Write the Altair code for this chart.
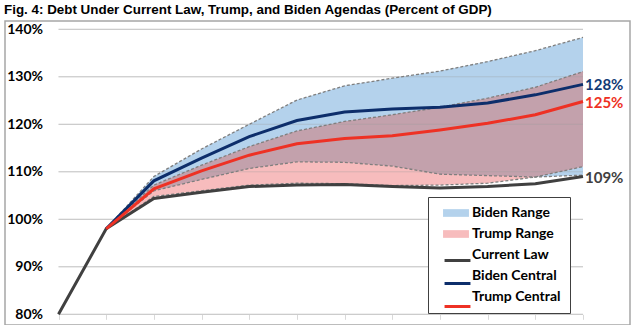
import altair as alt
import pandas as pd

# ---------------- data ----------------
years = list(range(2019, 2031))
current_law   = [80, 98, 104.4, 105.7, 106.9, 107.2, 107.3, 106.9, 106.6, 106.9, 107.5, 109.0]
biden_central = [None, 98, 108.1, 112.9, 117.4, 120.8, 122.6, 123.2, 123.6, 124.5, 126.2, 128.4]
trump_central = [None, 98, 106.4, 110.2, 113.5, 115.9, 117.0, 117.6, 118.8, 120.2, 122.0, 124.8]
biden_high    = [None, 98, 109.0, 114.8, 120.0, 125.1, 128.1, 129.7, 131.2, 133.2, 135.5, 138.3]
biden_low     = [None, 98, 106.0, 108.4, 110.7, 112.1, 112.0, 111.2, 109.5, 109.2, 108.9, 109.3]
trump_high    = [None, 98, 107.2, 111.4, 115.3, 118.6, 120.6, 122.0, 123.6, 125.5, 127.8, 131.1]
trump_low     = [None, 98, 104.8, 106.0, 107.2, 107.6, 107.5, 107.1, 107.2, 107.6, 108.9, 111.1]
y_ticks = [80, 90, 100, 110, 120, 130, 140]

legend_names = ["Biden Range", "Trump Range", "Current Law", "Biden Central", "Trump Central"]
fill_colors = ["#B4D2EC", "#F7BCBD", "transparent", "transparent", "transparent"]
line_colors = ["transparent", "transparent", "#404040", "#0D2E6B", "#EE3124"]
overlap_color = "#C3A1AC"
end_label_colors = {"Biden Central": "#123A75", "Trump Central": "#EE3124", "Current Law": "#404040"}

title_text = "Fig. 4: Debt Under Current Law, Trump, and Biden Agendas (Percent of GDP)"

# ---------------- tables ----------------
range_rows = []
for name, lo, hi in [("Biden Range", biden_low, biden_high), ("Trump Range", trump_low, trump_high)]:
    for yr, l, h in zip(years, lo, hi):
        if l is not None:
            range_rows.append({"series": name, "year": yr, "low": l, "high": h})
ranges = pd.DataFrame(range_rows)

overlap_rows = []
for yr, bl, bh, tl, th in zip(years, biden_low, biden_high, trump_low, trump_high):
    if bl is not None:
        overlap_rows.append({"year": yr, "low": max(bl, tl), "high": min(bh, th)})
overlap = pd.DataFrame(overlap_rows)

line_rows = []
for name, vals in [("Current Law", current_law), ("Biden Central", biden_central), ("Trump Central", trump_central)]:
    for yr, v in zip(years, vals):
        if v is not None:
            line_rows.append({"series": name, "year": yr, "value": v})
lines = pd.DataFrame(line_rows)

bound_rows = []
for name, vals in [("bh", biden_high), ("bl", biden_low), ("th", trump_high), ("tl", trump_low)]:
    for yr, v in zip(years, vals):
        if v is not None:
            bound_rows.append({"bound": name, "year": yr, "value": v})
bounds = pd.DataFrame(bound_rows)

end_rows = []
for name, vals in [("Biden Central", biden_central), ("Trump Central", trump_central), ("Current Law", current_law)]:
    end_rows.append({"series": name, "year": years[-1], "value": vals[-1],
                     "label": f"{round(vals[-1])}%", "tcolor": end_label_colors[name]})
ends = pd.DataFrame(end_rows)

grid = pd.DataFrame({"value": y_ticks})

# ---------------- encodings ----------------
FONT = "Lato"
x_scale = alt.Scale(domain=[years[0], years[-1]], range=[53.5, 578], nice=False, zero=False)
y_scale = alt.Scale(domain=[80, 140], range=[293.3, 8.3], nice=False, zero=False)

x_enc = alt.X("year:Q", scale=x_scale,
              axis=alt.Axis(values=years, labels=False, domain=False, grid=False, ticks=True,
                            tickSize=5, tickColor="#D9D9D9", tickWidth=1, offset=-10.7, title=None))
y_axis = alt.Axis(values=y_ticks, labelExpr="datum.value + '%'", domain=False, ticks=False,
                  grid=False, labelPadding=16, offset=-53.5, labelFont=FONT,
                  labelFontWeight="bold", labelFontSize=14, labelColor="black", title=None)

common_legend = dict(
    title=None, orient="none", legendX=423, legendY=176, padding=9,
    labelFont=FONT, labelFontSize=14, labelFontWeight="bold",
    symbolSize=196, symbolOffset=12, labelOffset=9, rowPadding=7, labelLimit=300,
)
fill_legend = alt.Legend(
    fillColor="white", strokeColor="#404040", cornerRadius=0,
    labelColor="black", symbolType="M-1.85,-0.55H1.85V0.55H-1.85Z", symbolStrokeWidth=0,
    zindex=0, **common_legend)
stroke_legend = alt.Legend(
    labelColor="black", labelExpr="''", symbolType="M-1.85,0H1.85",
    symbolStrokeWidth=3, symbolFillColor="transparent", zindex=1, **common_legend)

fill_enc = alt.Fill("series:N", scale=alt.Scale(domain=legend_names, range=fill_colors), legend=fill_legend)
stroke_enc = alt.Stroke("series:N", scale=alt.Scale(domain=legend_names, range=line_colors), legend=stroke_legend)

# ---------------- layers ----------------
grid_layer = alt.Chart(grid).mark_rule(color="#D9D9D9", strokeWidth=1).encode(
    y=alt.Y("value:Q", scale=y_scale, axis=y_axis),
    x=alt.datum(years[0]),
    x2=alt.datum(years[-1]),
)

area_layer = alt.Chart(ranges).mark_area().encode(
    x=x_enc, y=alt.Y("low:Q", scale=y_scale, axis=y_axis), y2="high:Q", fill=fill_enc)

overlap_layer = alt.Chart(overlap).mark_area(color=overlap_color).encode(
    x=x_enc, y=alt.Y("low:Q", scale=y_scale, axis=y_axis), y2="high:Q")

grid_over = alt.Chart(grid).mark_rule(color="#9A9A9A", strokeWidth=1, opacity=0.35).encode(
    y=alt.Y("value:Q", scale=y_scale, axis=y_axis),
    x=alt.datum(years[0]),
    x2=alt.datum(years[-1]),
)

bound_layer = alt.Chart(bounds).mark_line(color="#7F7F7F", strokeWidth=1.3, strokeDash=[3, 2]).encode(
    x=x_enc, y=alt.Y("value:Q", scale=y_scale, axis=y_axis), detail="bound:N")

line_layer = alt.Chart(lines).mark_line(strokeWidth=3).encode(
    x=x_enc, y=alt.Y("value:Q", scale=y_scale, axis=y_axis), stroke=stroke_enc)

text_layer = alt.Chart(ends).mark_text(align="left", baseline="middle", dx=2, dy=1, font=FONT,
                                       fontWeight="bold", fontSize=15).encode(
    x=x_enc, y=alt.Y("value:Q", scale=y_scale, axis=y_axis), text="label:N",
    color=alt.Color("tcolor:N", scale=None))

chart = alt.layer(grid_layer, area_layer, overlap_layer, grid_over, bound_layer, line_layer, text_layer).properties(
    width=625, height=304,
    title=alt.TitleParams(title_text, anchor="start", font="Liberation Sans", fontSize=13.4,
                          fontWeight="bold", color="black", offset=5, dx=-1),
    autosize=alt.AutoSizeParams(type="none"),
    padding={"left": 5, "top": 21, "right": 3, "bottom": 0},
).resolve_scale(fill="independent", stroke="independent").configure_view(
    stroke="#A6A6A6", strokeWidth=1.5
).configure_legend(strokeWidth=1)

chart.save("out.html", embed_options={"renderer": "svg", "actions": False})
